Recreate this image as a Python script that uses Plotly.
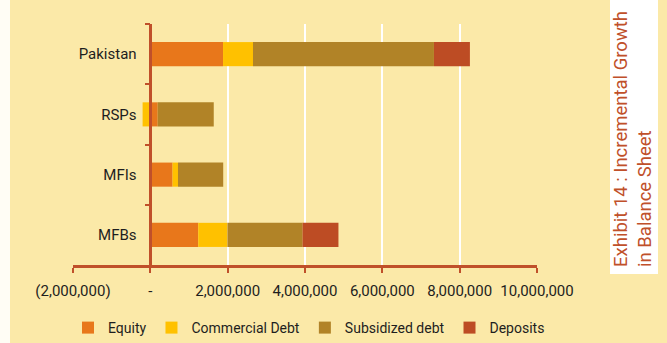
import plotly.graph_objects as go

# Incremental growth in balance sheet, by segment (PKR)
categories = ["Pakistan", "RSPs", "MFIs", "MFBs"]
equity = [1_880_000, 190_000, 575_000, 1_240_000]
commercial_debt = [775_000, -200_000, 140_000, 755_000]
subsidized_debt = [4_680_000, 1_450_000, 1_170_000, 1_940_000]
deposits = [930_000, 0, 0, 930_000]

x_tick_vals = [-2_000_000, 0, 2_000_000, 4_000_000, 6_000_000, 8_000_000, 10_000_000]
x_tick_text = ["(2,000,000)", "-", "2,000,000", "4,000,000", "6,000,000", "8,000,000", "10,000,000"]

series = [
    ("Equity", equity, "#E8771B"),
    ("Commercial Debt", commercial_debt, "#FFC100"),
    ("Subsidized debt", subsidized_debt, "#B18327"),
    ("Deposits", deposits, "#BD4C24"),
]

W, H = 667, 343
ML, MR, MT, MB = 73, 130, 24, 78
PW, PH = W - ML - MR, H - MT - MB

BG = "#FBE9A8"
AXIS = "#C0502A"
TEXT = "#1E1E1E"


def px_x(px):
    return (px - ML) / PW


def px_y(py):
    return (H - MB - py) / PH


fig = go.Figure()
for name, vals, color in series:
    fig.add_trace(go.Bar(
        y=categories, x=vals, name=name, orientation="h",
        marker=dict(color=color, line=dict(width=0)),
    ))

xmin, xmax = x_tick_vals[0], x_tick_vals[-1]

fig.update_layout(
    width=W, height=H,
    margin=dict(l=ML, r=MR, t=MT, b=MB, pad=0, autoexpand=False),
    paper_bgcolor=BG, plot_bgcolor=BG,
    barmode="relative", bargap=0.6,
    font=dict(family="Roboto", size=15, color=TEXT),
    showlegend=True,
    legend=dict(
        orientation="h", x=px_x(68), xanchor="left",
        y=px_y(328), yanchor="middle",
        font=dict(family="Roboto", size=14, color=TEXT),
        bgcolor="rgba(0,0,0,0)", itemclick=False,
    ),
    xaxis=dict(
        range=[xmin, xmax], tickvals=x_tick_vals, ticktext=x_tick_text,
        showgrid=True, gridcolor="#FFFFFF", gridwidth=2,
        zeroline=False,
        showline=True, linecolor=AXIS, linewidth=2.5,
        ticks="outside", ticklen=5, tickwidth=2, tickcolor=AXIS,
        ticklabelstandoff=5,
        tickfont=dict(family="Roboto", size=15, color=TEXT),
    ),
    yaxis=dict(
        type="category", categoryorder="array", categoryarray=categories,
        autorange="reversed",
        anchor="free", position=(0 - xmin) / (xmax - xmin),
        showgrid=False, zeroline=False,
        showline=True, linecolor=AXIS, linewidth=2.5,
        ticks="outside", tickson="boundaries", ticklen=5, tickwidth=2, tickcolor=AXIS,
        ticklabelstandoff=10,
        tickfont=dict(family="Roboto", size=15, color=TEXT),
    ),
    shapes=[
        # pale strip along the left edge
        dict(type="rect", xref="paper", yref="paper",
             x0=px_x(-5), x1=px_x(10), y0=px_y(H + 5), y1=px_y(-5),
             fillcolor="#FFFDF5", line=dict(width=0), layer="below"),
        # white panel behind the exhibit title
        dict(type="rect", xref="paper", yref="paper",
             x0=px_x(610), x1=px_x(658), y0=px_y(274), y1=px_y(-5),
             fillcolor="#FFFFFF", line=dict(width=0), layer="below"),
    ],
    annotations=[
        dict(text="Exhibit 14 : Incremental Growth<br>in Balance Sheet",
             xref="paper", yref="paper", x=px_x(633), y=px_y(139),
             xanchor="center", yanchor="middle", textangle=-90, align="left",
             showarrow=False,
             font=dict(family="Roboto", size=18.5, color=AXIS)),
    ],
)

fig.write_html("out.html")
